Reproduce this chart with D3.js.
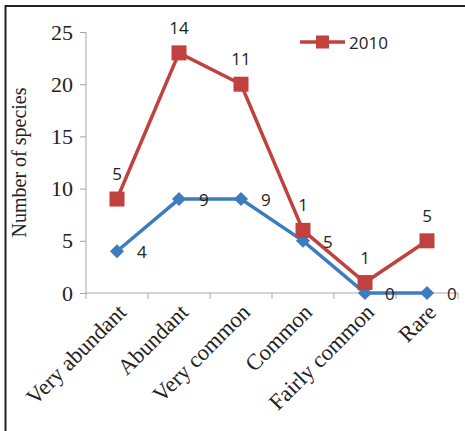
<!DOCTYPE html>
<html lang="en">
<head>
  <meta charset="UTF-8">
  <title>Number of species by abundance class</title>
  <script src="https://d3js.org/d3.v7.min.js"></script>
  <style>
    body { margin: 0; background: #fff; }
    .tick text { font-family: "Liberation Serif", serif; fill: #222; }
    .lbl { font-family: "Open Sans", "DejaVu Sans", sans-serif; font-size: 17px; fill: #222; }
  </style>
</head>
<body>
  <svg width="465" height="431"></svg>
  <script>
    // Data
    const categories = ["Very abundant", "Abundant", "Very common", "Common", "Fairly common", "Rare"];
    const values2010 = [9, 23, 20, 6, 1, 5];
    const labels2010 = [5, 14, 11, 1, 1, 5];
    const valuesOther = [4, 9, 9, 5, 0, 0];
    const labelsOther = [4, 9, 9, 5, 0, 0];
    const yTicks = [0, 5, 10, 15, 20, 25];

    const red = "#c0413e", blue = "#3e7cc0";
    const margin = { top: 32, left: 86, right: 7, bottom: 138 };
    const width = 465, height = 431;

    const svg = d3.select("svg");

    // outer frame (only top and left edges are visible)
    svg.append("path")
       .attr("d", "M5.5,431 V6 H465")
       .attr("fill", "none")
       .attr("stroke", "#222")
       .attr("stroke-width", 2);

    const x = d3.scaleBand()
                .domain(categories)
                .range([margin.left, width - margin.right]);
    const y = d3.scaleLinear()
                .domain([0, 25])
                .range([height - margin.bottom, margin.top]);
    const cx = d => x(d) + x.bandwidth() / 2;

    // y axis
    const yAxis = svg.append("g")
       .attr("transform", `translate(${margin.left},0)`)
       .call(d3.axisLeft(y).tickValues(yTicks).tickSize(6).tickPadding(7));
    yAxis.selectAll("line, path").attr("stroke", "#a6a6a6");
    yAxis.select(".domain").attr("d", `M0,${y(25)}V${y(0)}`);
    yAxis.selectAll(".tick text").style("font-size", "22px");

    // x axis
    const xAxis = svg.append("g")
       .attr("transform", `translate(0,${y(0)})`)
       .call(d3.axisBottom(x).tickSize(0).tickFormat(""));
    xAxis.selectAll("line, path").attr("stroke", "#a6a6a6");
    xAxis.select(".domain").attr("d", `M${margin.left},0H${width - margin.right}`);
    // tick marks at category boundaries
    xAxis.selectAll(".bound")
       .data(categories.slice(1).map(c => x(c)).concat([margin.left, width - margin.right]))
       .enter().append("line")
       .attr("x1", d => d).attr("x2", d => d)
       .attr("y1", 0).attr("y2", 6)
       .attr("stroke", "#a6a6a6");

    // rotated category labels
    svg.append("g").selectAll("text")
       .data(categories)
       .enter().append("text")
       .attr("transform", d => `translate(${cx(d) + 5},${y(0) + 15}) rotate(-45)`)
       .attr("text-anchor", "end")
       .attr("dy", "0.35em")
       .style("font-family", "'Liberation Serif', serif")
       .style("font-size", "22.5px")
       .style("fill", "#222")
       .text(d => d);

    // y axis title
    svg.append("text")
       .attr("transform", `translate(26,${(y(0) + y(25)) / 2}) rotate(-90)`)
       .attr("text-anchor", "middle")
       .style("font-family", "'Liberation Serif', serif")
       .style("font-size", "20px")
       .style("fill", "#222")
       .text("Number of species");

    const line = d3.line().x((d, i) => cx(categories[i])).y(d => y(d));

    // blue series (diamonds)
    svg.append("path")
       .datum(valuesOther)
       .attr("d", line)
       .attr("fill", "none")
       .attr("stroke", blue)
       .attr("stroke-width", 3.5);
    svg.append("g").selectAll("path")
       .data(valuesOther)
       .enter().append("path")
       .attr("d", d3.symbol(d3.symbolSquare, 100))
       .attr("transform", (d, i) => `translate(${cx(categories[i])},${y(d)}) rotate(45)`)
       .attr("fill", blue);

    // red series (squares)
    svg.append("path")
       .datum(values2010)
       .attr("d", line)
       .attr("fill", "none")
       .attr("stroke", red)
       .attr("stroke-width", 3.5);
    svg.append("g").selectAll("rect")
       .data(values2010)
       .enter().append("rect")
       .attr("x", (d, i) => cx(categories[i]) - 7.5)
       .attr("y", d => y(d) - 7.5)
       .attr("width", 15).attr("height", 15)
       .attr("fill", red);

    // data labels
    svg.append("g").selectAll("text")
       .data(labels2010)
       .enter().append("text")
       .attr("class", "lbl")
       .attr("x", (d, i) => cx(categories[i]))
       .attr("y", (d, i) => y(values2010[i]) - 19)
       .attr("text-anchor", "middle")
       .text(d => d);
    svg.append("g").selectAll("text")
       .data(labelsOther)
       .enter().append("text")
       .attr("class", "lbl")
       .attr("x", (d, i) => cx(categories[i]) + 20)
       .attr("y", (d, i) => y(valuesOther[i]) + 7)
       .text(d => d);

    // legend
    const lg = svg.append("g").attr("transform", "translate(300,42)");
    lg.append("line").attr("x1", 0).attr("x2", 45)
      .attr("stroke", red).attr("stroke-width", 3.5);
    lg.append("rect").attr("x", 16).attr("y", -6.5).attr("width", 13).attr("height", 13).attr("fill", red);
    lg.append("text").attr("class", "lbl").attr("x", 49).attr("y", 7).text("2010");
  </script>
</body>
</html>
